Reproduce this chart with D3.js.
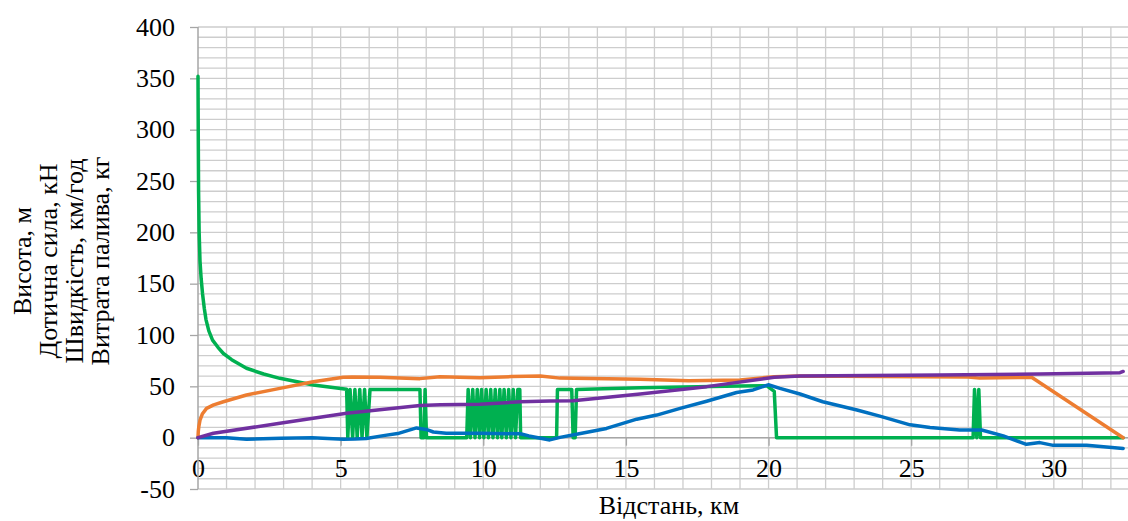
<!DOCTYPE html>
<html>
<head>
<meta charset="utf-8">
<script src="https://cdn.jsdelivr.net/npm/d3@7"></script>
<style>
  body { margin: 0; background: #fff; }
  svg text { font-family: 'Liberation Serif', 'Times New Roman', 'DejaVu Serif', serif; fill: #000; }
</style>
</head>
<body>
<div class="box"></div>
<script>
// Висота, м (синя)
const heightKm = [0, 1, 1.7, 2.9, 4.0, 5.1, 5.5, 5.9, 6.5, 7.0, 7.66, 8.0, 8.25, 8.7, 9.9, 11.3, 11.6, 12.33, 12.69, 13.27, 14.32, 15.38, 16.08, 16.9, 17.83, 18.88, 19.46, 19.99, 20.4, 21.1, 21.9, 23.1, 23.9, 24.96, 25.66, 26.7, 27.47, 28.23, 29.04, 29.51, 29.98, 31.15, 32.43];
const heightVal = [0, 0, -1.5, -0.5, 0, -1.5, -1.3, -0.8, 2, 4, 9.5, 8, 5.5, 4.3, 4.3, 3.8, 1.7, -2.2, 0.3, 3.3, 9, 18, 22, 28.5, 35.5, 44, 46.5, 51.5, 48, 42.5, 35, 27, 21, 12.5, 10, 7.5, 7.5, 1.7, -6.5, -4.8, -7.5, -7.4, -10.5];

// Швидкість, км/год (помаранчева)
const speedKm = [0, 0.01, 0.03, 0.07, 0.15, 0.3, 0.55, 0.89, 1.7, 2.87, 4.04, 5.09, 5.4, 6.38, 7.78, 8.48, 9.88, 11.0, 12.0, 12.69, 13.2, 15.5, 17.2, 19.0, 20.2, 21.1, 24, 27.0, 27.4, 29.22, 32.43];
const speedVal = [0, 6, 11, 17, 23, 28.5, 32, 35, 41.6, 48, 54.5, 58.8, 59, 58.8, 57.5, 59.4, 58.4, 59.5, 60, 58, 57.8, 56.8, 55.5, 56.2, 59.4, 60, 59.5, 59, 58, 58.8, 0];

// Витрата палива, кг (фіолетова)
const fuelKm = [0, 0.54, 2.87, 5.21, 7.78, 8.5, 9.88, 11.3, 12.34, 13.15, 15.5, 17.83, 20.2, 21.1, 26, 29.5, 32.32, 32.43];
const fuelVal = [0, 4.3, 14, 23.8, 31.3, 32, 32.5, 35, 35.7, 36, 42.6, 49.7, 58.8, 60, 61, 62, 63.3, 64.5];

// Дотична сила, кН (зелена)
const forceKm = [0, 0.01, 0.02, 0.04, 0.07, 0.11, 0.16, 0.22, 0.28, 0.38, 0.51, 0.7, 0.89, 1.18, 1.7, 2.3, 2.87, 4.04, 5.21,
  5.25, 5.33, 5.42, 5.50, 5.58, 5.67, 5.75, 5.84, 5.92, 6.03,
  7.78, 7.82, 7.92, 7.96, 8.01, 9.42,
  9.47, 9.55, 9.63, 9.71, 9.79, 9.87, 9.94, 10.02, 10.10, 10.18, 10.26, 10.34, 10.42, 10.50,
  10.58, 10.65, 10.73, 10.81, 10.89, 10.97, 11.05, 11.13, 11.21, 11.28, 11.31,
  12.57, 12.6, 13.1, 13.15, 13.22, 13.27, 15.5, 19.0, 19.93, 20.2, 20.28,
  27.17, 27.22, 27.30, 27.37, 27.43, 32.43];
const forceVal = [352, 290, 240, 200, 172, 155, 140, 126, 115, 104, 95, 88, 82, 76, 67.6, 62, 57.8, 51.3, 47.1,
  0, 47, 0, 47, 0, 47, 0, 47, 0, 47,
  47, 0, 0, 47, 0, 0,
  47, 0, 47, 0, 47, 0, 47, 0, 47, 0, 47, 0, 47, 0,
  47, 0, 47, 0, 47, 0, 47, 0, 47, 47, 0,
  0, 47, 47, 0, 0, 47, 48.7, 50.3, 50.6, 45, 0,
  0, 47, 0, 47, 0, 0];

const yTicks = [-50, 0, 50, 100, 150, 200, 250, 300, 350, 400];
const xTicks = [0, 5, 10, 15, 20, 25, 30];
const yTitle = ['Висота, м', 'Дотична сила, кН', 'Швидкість, км/год', 'Витрата палива, кг'];

const serif = 'Liberation Serif';

const svg = d3.select('.box')
              .append('svg')
              .attr('width', 1128)
              .attr('height', 521)
              .style('background', '#fff')
              .style('display', 'block');

const x = d3.scaleLinear().domain([0, 32.6]).range([198, 1128]);
const y = d3.scaleLinear().domain([-50, 400]).range([489, 27]);

// сітка
const grid = svg.append('g');
grid.selectAll('.hg')
    .data(d3.range(-50, 401, 10))
    .enter().append('line')
    .attr('x1', x(0)).attr('x2', 1128)
    .attr('y1', d => y(d)).attr('y2', d => y(d))
    .attr('stroke', '#cdcdcd').attr('stroke-width', 1.3);
grid.selectAll('.vg')
    .data(d3.range(1, 33, 1))
    .enter().append('line')
    .attr('x1', d => x(d)).attr('x2', d => x(d))
    .attr('y1', y(400)).attr('y2', y(-50))
    .attr('stroke', '#cdcdcd').attr('stroke-width', 1.3);

// осі
const axeY = d3.axisLeft(y).tickValues(yTicks).tickSize(8).tickPadding(15)
               .tickFormat(d => String(d));
const gY = svg.append('g').attr('transform', `translate(${x(0)},0)`).call(axeY)
              .attr('font-family', serif).attr('font-size', 26);
gY.select('.domain').remove();
gY.selectAll('line').attr('stroke', '#a6a6a6').attr('stroke-width', 1.3);
gY.selectAll('text').attr('font-family', serif).attr('font-size', 26).attr('fill', '#000');

const axeX = d3.axisBottom(x).tickValues(xTicks).tickSize(8).tickPadding(13)
               .tickFormat(d => String(d));
const gX = svg.append('g').attr('transform', `translate(0,${y(0)})`).call(axeX)
              .attr('font-family', serif).attr('font-size', 26);
gX.select('.domain').remove();
gX.selectAll('line').attr('stroke', '#a6a6a6').attr('stroke-width', 1.3);
gX.selectAll('text').attr('font-family', serif).attr('font-size', 26).attr('fill', '#000');

svg.append('line')
   .attr('x1', x(0)).attr('x2', x(0)).attr('y1', y(400)).attr('y2', y(-50))
   .attr('stroke', '#a6a6a6').attr('stroke-width', 1.5);
svg.append('line')
   .attr('x1', x(0)).attr('x2', 1128).attr('y1', y(0)).attr('y2', y(0))
   .attr('stroke', '#a6a6a6').attr('stroke-width', 1.5);

// лінії
const line = d3.line().curve(d3.curveLinear).x(d => x(d[0])).y(d => y(d[1]));
const series = [
  {km: forceKm, val: forceVal, color: '#00b050'},
  {km: speedKm, val: speedVal, color: '#ed7d31'},
  {km: heightKm, val: heightVal, color: '#0070c0'},
  {km: fuelKm, val: fuelVal, color: '#7030a0'}
];
series.forEach(s => {
  svg.append('path')
     .datum(s.km.map((k, i) => [k, s.val[i]]))
     .attr('d', line)
     .attr('fill', 'none')
     .attr('stroke', s.color)
     .attr('stroke-width', 3.5)
     .attr('stroke-linejoin', 'round')
     .attr('stroke-linecap', 'round');
});

// підписи осей
svg.append('text')
   .attr('x', 669).attr('y', 514)
   .attr('text-anchor', 'middle')
   .attr('font-family', serif)
   .attr('font-size', 26)
   .text('Відстань, км');

const titleX = [22, 48, 74, 100];
yTitle.forEach((t, i) => {
  svg.append('text')
     .attr('transform', `translate(${titleX[i]},261) rotate(-90)`)
     .attr('text-anchor', 'middle')
     .attr('dominant-baseline', 'central')
     .attr('font-family', serif)
     .attr('font-size', 26)
     .text(t);
});
</script>
</body>
</html>
